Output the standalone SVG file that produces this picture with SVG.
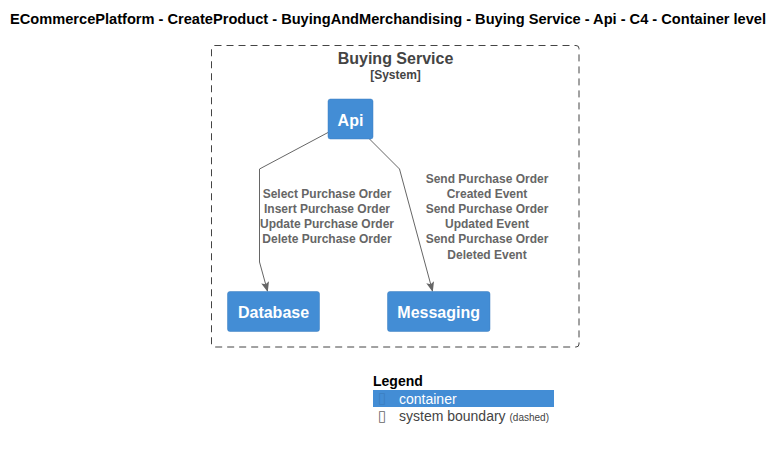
<svg xmlns="http://www.w3.org/2000/svg" width="783" height="450" viewBox="0 0 783 450">
<defs>
<style>
text{font-family:"Liberation Sans",Arial,sans-serif}
.title{font-size:14px;font-weight:bold;fill:#000}
.node rect{fill:#438DD5;stroke:#3C7FC0;stroke-width:0.5}
.node text{fill:#fff;font-size:16px;font-weight:bold;text-anchor:middle}
.lbl{fill:#666;font-size:12px;font-weight:bold;text-anchor:middle}
.edge{fill:none;stroke:#666;stroke-width:1}
.tofu{font-family:"DejaVu Sans",sans-serif;font-size:15px}
</style>
<marker id="arr" viewBox="0 0 10 10" refX="9" refY="5" markerWidth="10" markerHeight="10" markerUnits="userSpaceOnUse" orient="auto">
<path d="M0,1 L10,5 L0,9 L2,5 Z" fill="#666"/>
</marker>
</defs>
<rect width="783" height="450" fill="#fff"/>
<text class="title" x="10" y="24" textLength="756" lengthAdjust="spacingAndGlyphs">ECommercePlatform - CreateProduct - BuyingAndMerchandising - Buying Service - Api - C4 - Container level</text>
<g id="boundary">
<rect x="211.5" y="45.5" width="367.5" height="301.5" rx="3" fill="none" stroke="#444" stroke-width="1" stroke-dasharray="7,5"/>
<text x="395.5" y="64" text-anchor="middle" font-size="16" font-weight="bold" fill="#444">Buying Service</text>
<text x="395.5" y="79" text-anchor="middle" font-size="12" font-weight="bold" fill="#444">[System]</text>
</g>
<g id="connectors">
<path class="edge" d="M328,132.5 L259.5,169 L259.5,262 L267.5,291" marker-end="url(#arr)"/>
<path class="edge" d="M369.5,139 L399.5,169 L432.5,291" marker-end="url(#arr)"/>
<text class="lbl" x="327" y="198">Select Purchase Order</text>
<text class="lbl" x="327" y="213">Insert Purchase Order</text>
<text class="lbl" x="327" y="228">Update Purchase Order</text>
<text class="lbl" x="327" y="243">Delete Purchase Order</text>
<text class="lbl" x="487" y="183">Send Purchase Order</text>
<text class="lbl" x="487" y="198">Created Event</text>
<text class="lbl" x="487" y="213">Send Purchase Order</text>
<text class="lbl" x="487" y="228">Updated Event</text>
<text class="lbl" x="487" y="243">Send Purchase Order</text>
<text class="lbl" x="487" y="259">Deleted Event</text>
</g>
<g id="api" class="node">
<rect x="328" y="99" width="45" height="40" rx="2.5"/>
<text x="350.5" y="125.5">Api</text>
</g>
<g id="database" class="node">
<rect x="227.5" y="291.5" width="92" height="40" rx="2.5"/>
<text x="273.5" y="317.5">Database</text>
</g>
<g id="messaging" class="node">
<rect x="387.5" y="291.5" width="102.5" height="40" rx="2.5"/>
<text x="438.7" y="317.5">Messaging</text>
</g>
<g id="legend">
<text x="373" y="386" font-size="14" font-weight="bold" fill="#000">Legend</text>
<rect x="373" y="390" width="181" height="17" fill="#438DD5"/>
<text class="tofu" x="378" y="403" fill="#3C7FC0">▯</text>
<text x="399" y="403.5" font-size="14" fill="#fff">container</text>
<text class="tofu" x="378" y="421" fill="#666">▯</text>
<text x="399" y="421" font-size="14" fill="#444">system boundary <tspan font-size="10">(dashed)</tspan></text>
</g>
</svg>
